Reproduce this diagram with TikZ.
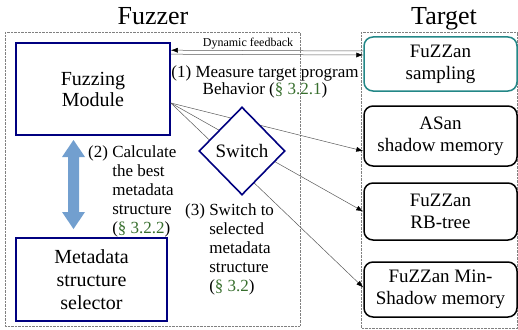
\documentclass[tikz,border=0pt]{standalone}
\usepackage{fontspec}
\setmainfont{Liberation Serif}
\usetikzlibrary{positioning,shapes.geometric,arrows.meta,calc}
\definecolor{boxnavy}{RGB}{0,0,128}
\definecolor{boxteal}{RGB}{35,135,135}
\definecolor{secgreen}{RGB}{55,110,45}
\definecolor{arrowblue}{RGB}{114,159,207}
\newcommand{\secref}[1]{({\color{secgreen}\S~#1})}
\newcommand{\steptext}[2]{#1 \begin{tabular}[t]{@{}l@{}}#2\end{tabular}}

\tikzset{
  fuzzbox/.style={draw=boxnavy, line width=1.6pt, align=center},
  targetbox/.style={draw, rounded corners=9pt, line width=1.5pt, minimum width=153pt,
    align=center, font=\fontsize{19}{22}\selectfont},
  groupbox/.style={draw=gray, densely dotted, line width=0.4pt},
  link/.style={draw=gray!70!black, line width=0.5pt, -{Latex[length=7pt,width=5pt,color=black]}},
  steplabel/.style={inner sep=0pt, font=\fontsize{17}{19}\selectfont},
}

\begin{document}
\begin{tikzpicture}[x=1pt,y=-1pt]
    \useasboundingbox (0,0) rectangle (518,329);
    % groups
    \draw[groupbox] (5,32) rectangle (300,326);
    \draw[groupbox] (361,32) rectangle (517.5,328);
    \node[anchor=base, inner sep=0pt, font=\fontsize{26}{28}\selectfont] (fuzzertitle) at (153,25) {Fuzzer};
    \node[anchor=base, inner sep=0pt, font=\fontsize{26}{28}\selectfont] (targettitle) at (444,25) {Target};

    % fuzzer side
    \node[fuzzbox, minimum width=154pt, minimum height=92pt, font=\fontsize{20}{21}\selectfont] (fuzz) at (93,89) {Fuzzing\\Module};
    \node[fuzzbox, minimum width=151pt, minimum height=83pt, font=\fontsize{20}{23}\selectfont] (selector) at (91.5,279.5) {Metadata\\structure\\selector};

    % target side
    \node[targetbox, draw=boxteal, minimum height=54pt] (sampling) at (440.5,64) {FuZZan\\sampling};
    \node[targetbox, minimum height=60pt] (asan) at (440.5,136) {ASan\\shadow memory};
    \node[targetbox, minimum height=57pt] (rbtree) at (440.5,211.5) {FuZZan\\RB-tree};
    \node[targetbox, minimum height=55pt] (minshadow) at (440.5,289.5) {FuZZan Min-\\Shadow memory};

    % feedback loop
    \node[anchor=base, inner sep=0pt, font=\fontsize{12}{14}\selectfont] (feedback) at (248,46.5) {Dynamic feedback};
    \draw[link] ([yshift=13pt]sampling.west) -- ([yshift=-8pt]fuzz.north east);
    \draw[link] ([yshift=-12pt]fuzz.north east) -- ([yshift=9pt]sampling.west);

    % switching to a metadata structure
    \coordinate (fan) at ([yshift=-14pt]fuzz.east);
    \draw[link] (fan) -- ([yshift=-15pt]asan.west);
    \draw[link] (fan) -- (rbtree.west);
    \draw[link] (fan) -- ([yshift=2pt]minshadow.west);
    \node[diamond, draw=boxnavy, fill=white, line width=1.6pt, minimum width=86pt, minimum height=88pt,
      inner sep=0pt, font=\fontsize{19}{21}\selectfont] (switch) at (242,151) {Switch};

    % selector <-> fuzzing module
    \fill[arrowblue] (68,157) -- (62,157) -- (73.5,140) -- (85,157) -- (79,157)
      -- (79,212) -- (85,212) -- (73.5,229) -- (62,212) -- (68,212) -- cycle;

    % steps
    \node[steplabel, anchor=base] (measure) at (265,77)
      {\begin{tabular}[t]{@{}c@{}}(1) Measure target program\\[-2pt]Behavior \secref{3.2.1}\end{tabular}};
    \node[steplabel, anchor=base west] (calculate) at (88,157)
      {\steptext{(2)}{Calculate\\the best\\metadata\\structure\\\secref{3.2.2}}};
    \node[steplabel, anchor=base west] (switchto) at (185,215)
      {\steptext{(3)}{Switch to\\selected\\metadata\\structure\\\secref{3.2}}};
\end{tikzpicture}
\end{document}
